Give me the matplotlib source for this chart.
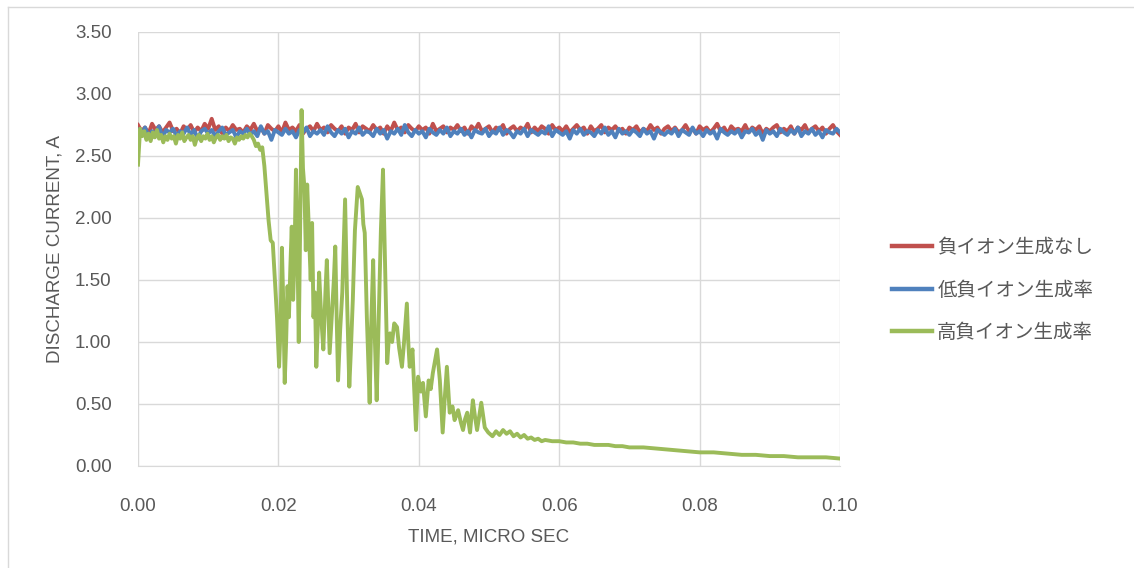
import numpy as np
import matplotlib
matplotlib.use('Agg')
import matplotlib.pyplot as plt
from matplotlib.lines import Line2D

# ─── DATA ──────────────────────────────────────────────────────────────────────
labels = ["負イオン生成なし", "低負イオン生成率", "高負イオン生成率"]
colors = ["#C0504D", "#4F81BD", "#9BBB59"]

# red / blue: sampled every 0.0005 us, 0 .. 0.10
flat_t = [i * 0.0005 for i in range(201)]
red_v = [
    2.75, 2.70, 2.73, 2.68, 2.76, 2.71, 2.74, 2.69, 2.73, 2.77,
    2.70, 2.72, 2.68, 2.74, 2.71, 2.75, 2.69, 2.73, 2.70, 2.76,
    2.72, 2.80, 2.71, 2.74, 2.68, 2.73, 2.70, 2.75, 2.71, 2.72,
    2.69, 2.74, 2.71, 2.76, 2.70, 2.73, 2.68, 2.75, 2.72, 2.70,
    2.74, 2.69, 2.77, 2.71, 2.73, 2.70, 2.75, 2.68, 2.72, 2.74,
    2.70, 2.76, 2.71, 2.73, 2.69, 2.75, 2.72, 2.70, 2.74, 2.68,
    2.73, 2.71, 2.76, 2.69, 2.74, 2.72, 2.70, 2.75, 2.71, 2.73,
    2.68, 2.74, 2.70, 2.77, 2.71, 2.73, 2.69, 2.75, 2.72, 2.70,
    2.74, 2.71, 2.73, 2.68, 2.76, 2.70, 2.72, 2.74, 2.69, 2.73,
    2.71, 2.75, 2.70, 2.73, 2.68, 2.74, 2.71, 2.76, 2.70, 2.72,
    2.74, 2.69, 2.73, 2.71, 2.75, 2.68, 2.72, 2.74, 2.70, 2.73,
    2.71, 2.76, 2.69, 2.73, 2.70, 2.74, 2.72, 2.68, 2.75, 2.71,
    2.73, 2.70, 2.74, 2.69, 2.72, 2.75, 2.71, 2.73, 2.68, 2.74,
    2.70, 2.72, 2.75, 2.69, 2.73, 2.71, 2.74, 2.70, 2.72, 2.68,
    2.73, 2.71, 2.74, 2.69, 2.72, 2.70, 2.75, 2.71, 2.73, 2.68,
    2.72, 2.74, 2.70, 2.73, 2.69, 2.71, 2.75, 2.70, 2.72, 2.68,
    2.74, 2.71, 2.73, 2.69, 2.72, 2.76, 2.70, 2.73, 2.68, 2.74,
    2.71, 2.72, 2.70, 2.75, 2.69, 2.73, 2.71, 2.74, 2.68, 2.72,
    2.70, 2.73, 2.75, 2.69, 2.72, 2.70, 2.74, 2.68, 2.73, 2.71,
    2.75, 2.69, 2.72, 2.74, 2.70, 2.73, 2.68, 2.72, 2.75, 2.70,
    2.67,
]
blue_v = [
    2.71, 2.67, 2.73, 2.66, 2.70, 2.68, 2.74, 2.65, 2.71, 2.69,
    2.72, 2.66, 2.70, 2.68, 2.73, 2.67, 2.71, 2.64, 2.70, 2.72,
    2.68, 2.71, 2.66, 2.70, 2.73, 2.67, 2.69, 2.71, 2.65, 2.70,
    2.68, 2.72, 2.67, 2.70, 2.66, 2.74, 2.68, 2.70, 2.63, 2.71,
    2.69, 2.67, 2.72, 2.68, 2.70, 2.65, 2.71, 2.69, 2.73, 2.66,
    2.70, 2.68, 2.71, 2.67, 2.74, 2.69, 2.66, 2.71, 2.68, 2.72,
    2.65, 2.70, 2.68, 2.73, 2.67, 2.70, 2.69, 2.66, 2.72, 2.68,
    2.71, 2.64, 2.70, 2.68, 2.72, 2.67, 2.75, 2.69, 2.66, 2.71,
    2.68, 2.70, 2.65, 2.72, 2.69, 2.67, 2.71, 2.68, 2.73, 2.66,
    2.70, 2.68, 2.72, 2.67, 2.70, 2.65, 2.71, 2.69, 2.68, 2.72,
    2.66, 2.70, 2.68, 2.73, 2.67, 2.71, 2.69, 2.65, 2.70, 2.68,
    2.72, 2.66, 2.71, 2.69, 2.67, 2.70, 2.68, 2.74, 2.66, 2.71,
    2.69, 2.67, 2.70, 2.64, 2.71, 2.68, 2.72, 2.67, 2.70, 2.69,
    2.66, 2.71, 2.68, 2.73, 2.67, 2.70, 2.65, 2.72, 2.68, 2.70,
    2.67, 2.71, 2.69, 2.66, 2.72, 2.68, 2.70, 2.64, 2.71, 2.69,
    2.67, 2.70, 2.68, 2.72, 2.66, 2.71, 2.69, 2.67, 2.73, 2.68,
    2.70, 2.66, 2.71, 2.68, 2.70, 2.64, 2.72, 2.69, 2.67, 2.70,
    2.68, 2.71, 2.65, 2.70, 2.69, 2.72, 2.67, 2.70, 2.63, 2.71,
    2.68, 2.70, 2.66, 2.72, 2.69, 2.67, 2.71, 2.68, 2.73, 2.66,
    2.70, 2.68, 2.72, 2.67, 2.70, 2.65, 2.71, 2.69, 2.68, 2.72,
    2.69,
]

# green: uneven sampling, denser where it oscillates
green_t = [
    0.0000, 0.0003, 0.0006, 0.0009, 0.0012, 0.0015, 0.0018, 0.0021, 0.0024, 0.0027,
    0.0030, 0.0033, 0.0036, 0.0039, 0.0042, 0.0045, 0.0048, 0.0051, 0.0054, 0.0057,
    0.0060, 0.0063, 0.0066, 0.0069, 0.0072, 0.0075, 0.0078, 0.0081, 0.0084, 0.0087,
    0.0090, 0.0093, 0.0096, 0.0099, 0.0102, 0.0105, 0.0108, 0.0111, 0.0114, 0.0117,
    0.0120, 0.0123, 0.0126, 0.0129, 0.0132, 0.0135, 0.0138, 0.0141, 0.0144, 0.0147,
    0.0150, 0.0153, 0.0156, 0.0159, 0.0162, 0.0165, 0.0168, 0.0171, 0.0174, 0.0177,
    0.0180, 0.0183, 0.0186, 0.0189, 0.0192, 0.0195, 0.0198, 0.0201, 0.0203, 0.0205,
    0.0207, 0.0209, 0.0211, 0.0213, 0.0215, 0.0217, 0.0219, 0.0221, 0.0223, 0.0225,
    0.0227, 0.0229, 0.0231, 0.0233, 0.0235, 0.0237, 0.0239, 0.0241, 0.0244, 0.0246,
    0.0248, 0.0250, 0.0252, 0.0254, 0.0256, 0.0258, 0.0261, 0.0264, 0.0267, 0.0269,
    0.0271, 0.0273, 0.0276, 0.0279, 0.0281, 0.0283, 0.0285, 0.0288, 0.0291, 0.0295,
    0.0298, 0.0301, 0.0303, 0.0306, 0.0309, 0.0313, 0.0316, 0.0319, 0.0321, 0.0323,
    0.0326, 0.0330, 0.0332, 0.0335, 0.0337, 0.0340, 0.0343, 0.0346, 0.0349, 0.0352,
    0.0355, 0.0357, 0.0359, 0.0362, 0.0365, 0.0369, 0.0372, 0.0376, 0.0379, 0.0383,
    0.0385, 0.0387, 0.0391, 0.0396, 0.0399, 0.0403, 0.0406, 0.0410, 0.0414, 0.0417,
    0.0420, 0.0426, 0.0430, 0.0434, 0.0437, 0.0440, 0.0444, 0.0448, 0.0451, 0.0454,
    0.0456, 0.0460, 0.0463, 0.0466, 0.0469, 0.0473, 0.0477, 0.0480, 0.0483, 0.0486,
    0.0489, 0.0494, 0.0499, 0.0505, 0.0510, 0.0515, 0.0520, 0.0525, 0.0530, 0.0535,
    0.0540, 0.0545, 0.0550, 0.0555, 0.0560, 0.0565, 0.0570, 0.0575, 0.0580, 0.0590,
    0.0600, 0.0610, 0.0620, 0.0630, 0.0640, 0.0650, 0.0660, 0.0670, 0.0680, 0.0690,
    0.0700, 0.0720, 0.0740, 0.0760, 0.0780, 0.0800, 0.0820, 0.0840, 0.0860, 0.0880,
    0.0900, 0.0920, 0.0940, 0.0960, 0.0980, 0.1000,
]
green_v = [
    2.43, 2.72, 2.66, 2.70, 2.63, 2.68, 2.62, 2.69, 2.65, 2.71,
    2.64, 2.67, 2.61, 2.66, 2.63, 2.68, 2.64, 2.66, 2.60, 2.67,
    2.64, 2.69, 2.62, 2.65, 2.67, 2.63, 2.66, 2.59, 2.65, 2.67,
    2.62, 2.66, 2.64, 2.68, 2.63, 2.66, 2.61, 2.65, 2.67, 2.63,
    2.66, 2.64, 2.67, 2.62, 2.65, 2.64, 2.60, 2.65, 2.63, 2.66,
    2.64, 2.67, 2.65, 2.68, 2.66, 2.63, 2.58, 2.60, 2.55, 2.57,
    2.42, 2.20, 1.98, 1.82, 1.80, 1.50, 1.20, 0.80, 1.10, 1.76,
    1.30, 0.67, 1.00, 1.45, 1.20, 1.60, 1.93, 1.34, 1.70, 2.39,
    1.80, 1.00, 1.90, 2.87, 2.40, 2.25, 1.74, 2.27, 1.80, 1.50,
    1.96, 1.20, 1.40, 0.80, 1.10, 1.56, 1.20, 0.94, 1.40, 1.66,
    1.30, 0.91, 1.20, 1.50, 1.77, 1.20, 0.69, 1.10, 1.40, 2.15,
    1.30, 0.64, 0.90, 1.34, 1.90, 2.25, 2.20, 2.15, 1.95, 1.88,
    1.20, 0.51, 1.10, 1.66, 1.10, 0.53, 1.20, 1.90, 2.39, 1.60,
    0.83, 1.00, 1.07, 1.00, 1.15, 1.12, 0.95, 0.80, 1.00, 1.31,
    1.00, 0.80, 0.94, 0.29, 0.72, 0.60, 0.67, 0.40, 0.69, 0.62,
    0.75, 0.94, 0.69, 0.27, 0.55, 0.80, 0.43, 0.48, 0.37, 0.42,
    0.45, 0.35, 0.29, 0.38, 0.43, 0.27, 0.53, 0.40, 0.29, 0.40,
    0.51, 0.31, 0.27, 0.24, 0.28, 0.25, 0.29, 0.26, 0.28, 0.24,
    0.26, 0.23, 0.25, 0.22, 0.23, 0.21, 0.22, 0.20, 0.21, 0.20,
    0.20, 0.19, 0.19, 0.18, 0.18, 0.17, 0.17, 0.17, 0.16, 0.16,
    0.15, 0.15, 0.14, 0.13, 0.12, 0.11, 0.11, 0.10, 0.09, 0.09,
    0.08, 0.08, 0.07, 0.07, 0.07, 0.06,
]

x_ticks = [0.00, 0.02, 0.04, 0.06, 0.08, 0.10]
y_ticks = [0.0, 0.5, 1.0, 1.5, 2.0, 2.5, 3.0, 3.5]

# ─── PLOT ──────────────────────────────────────────────────────────────────────
plt.rcParams['font.family'] = ['Liberation Sans', 'Noto Sans CJK JP', 'DejaVu Sans']
text_c = "#595959"
grid_c = "#D9D9D9"
fs = 13.5

fig = plt.figure(figsize=(11.34, 5.68), dpi=100)
ax = fig.add_axes([138 / 1134, 1 - 466 / 568, 702 / 1134, 434 / 568])

ax.plot(flat_t, red_v, color=colors[0], lw=2.8, solid_joinstyle='round')
ax.plot(flat_t, blue_v, color=colors[1], lw=2.8, solid_joinstyle='round')
ax.plot(green_t, green_v, color=colors[2], lw=2.8, solid_joinstyle='round')

ax.set_xlim(0, 0.10)
ax.set_ylim(0, 3.5)
ax.set_xticks(x_ticks)
ax.set_yticks(y_ticks)
ax.set_xticklabels([f"{v:.2f}" for v in x_ticks])
ax.set_yticklabels([f"{v:.2f}" for v in y_ticks])
ax.tick_params(length=0, labelsize=fs, colors=text_c)
ax.tick_params(axis='x', pad=23)
ax.tick_params(axis='y', pad=19)
ax.grid(True, color=grid_c, lw=1.0)
ax.set_axisbelow(True)
for side in ['top', 'right', 'left']:
    ax.spines[side].set_visible(False)
ax.spines['bottom'].set_color(grid_c)

ax.set_xlabel("TIME, MICRO SEC", fontsize=fs, color=text_c, labelpad=10)
ax.set_ylabel("DISCHARGE CURRENT, A", fontsize=fs, color=text_c, labelpad=8)

handles = [Line2D([], [], color=c, lw=3.2) for c in colors]
fig.legend(handles, labels, loc='center left',
           bbox_to_anchor=(874 / 1134, 1 - 290 / 568), frameon=False,
           prop={'family': ['Noto Sans CJK JP'], 'size': 14},
           labelcolor=text_c, handlelength=2.1, handletextpad=0.25,
           labelspacing=1.1)

# outer chart border
fig.add_artist(Line2D([8 / 1134, 1], [1 - 7 / 568, 1 - 7 / 568],
                      transform=fig.transFigure, color=grid_c, lw=1))
fig.add_artist(Line2D([8 / 1134, 8 / 1134], [0, 1 - 7 / 568],
                      transform=fig.transFigure, color=grid_c, lw=1))

fig.savefig("out.png", dpi=100)
